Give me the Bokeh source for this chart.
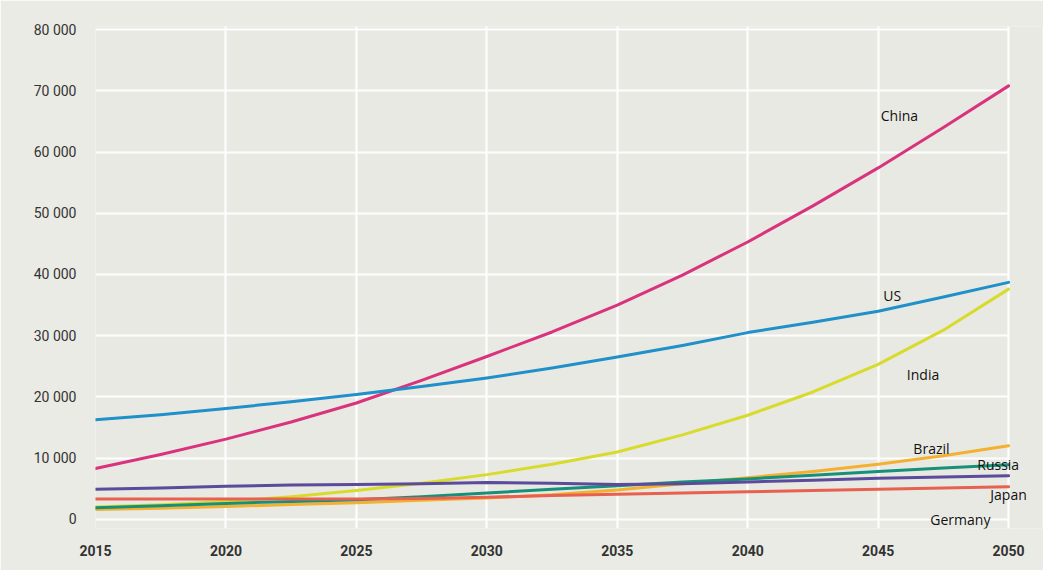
from bokeh.plotting import figure
from bokeh.models import ColumnDataSource, FixedTicker, Range1d, LabelSet
from bokeh.core.properties import value
from bokeh.embed import file_html
from bokeh.resources import INLINE

years = [2015, 2017.5, 2020, 2022.5, 2025, 2027.5, 2030, 2032.5,
         2035, 2037.5, 2040, 2042.5, 2045, 2047.5, 2050]
china = [8300, 10600, 13100, 15900, 19000, 22700, 26600, 30600,
         35000, 39900, 45300, 51200, 57400, 64000, 70800]
us = [16250, 17100, 18100, 19200, 20400, 21700, 23100, 24700,
      26500, 28400, 30500, 32200, 34000, 36300, 38700]
india = [2000, 2400, 2900, 3700, 4700, 5900, 7300, 9000,
         11000, 13800, 17000, 20800, 25300, 30900, 37600]
brazil = [1600, 1800, 2100, 2400, 2700, 3100, 3500, 4000,
          4800, 5800, 6800, 7800, 9000, 10400, 12000]
russia = [1900, 2200, 2600, 2900, 3200, 3700, 4300, 4900,
          5500, 6100, 6600, 7200, 7800, 8400, 8900]
japan = [4900, 5100, 5400, 5600, 5700, 5800, 6000, 5900,
         5700, 5800, 6100, 6400, 6700, 6900, 7100]
germany = [3300, 3300, 3300, 3300, 3300, 3400, 3600, 3900,
           4100, 4300, 4500, 4700, 4900, 5100, 5300]

series_names = ["China", "US", "India", "Brazil", "Russia", "Japan", "Germany"]
series_values = [china, us, india, brazil, russia, japan, germany]
colors = ["#d9337d", "#1f90c9", "#d8db2c", "#f4b030", "#17907a", "#5a4b9b", "#e8604f"]

label_x = [2045.1, 2045.2, 2046.1, 2046.35, 2048.8, 2049.3, 2047.0]
label_y = [66000, 36500, 23600, 11570, 8960, 4070, 0]

grid_years = [2015, 2020, 2025, 2030, 2035, 2040, 2045, 2050]
y_ticks = [0, 10000, 20000, 30000, 40000, 50000, 60000, 70000, 80000]
y_tick_labels = ["0", "10 000", "20 000", "30 000", "40 000", "50 000", "60 000", "70 000", "80 000"]

p = figure(width=1043, height=570, output_backend="svg", toolbar_location=None,
           x_range=Range1d(2015, 2051.3), y_range=Range1d(-1500, 80500),
           min_border_left=95, min_border_right=1, min_border_top=26, min_border_bottom=42)
p.background_fill_color = "#e9e9e3"
p.border_fill_color = "#ebebe5"
p.outline_line_color = None

for name, vals, col in zip(series_names, series_values, colors):
    p.line(years, vals, line_color=col, line_width=3, line_cap="round", line_join="round")

src = ColumnDataSource(dict(x=label_x, y=label_y, t=series_names))
labels = LabelSet(x="x", y="y", text="t", source=src, text_font=value("Open Sans"),
                  text_font_size="14px", text_color="#111111", text_align="left",
                  text_baseline="middle")
p.add_layout(labels)

p.xgrid.ticker = FixedTicker(ticks=grid_years)
p.ygrid.ticker = FixedTicker(ticks=y_ticks)
p.ygrid.cross_bounds = (2015, 2050)
for g in (p.xgrid[0], p.ygrid[0]):
    g.grid_line_color = "white"
    g.grid_line_width = 2.2
    g.grid_line_alpha = 0.9

p.xaxis.ticker = FixedTicker(ticks=grid_years)
p.yaxis.ticker = FixedTicker(ticks=y_ticks)
p.yaxis.major_label_overrides = {t: l for t, l in zip(y_ticks, y_tick_labels)}
for ax in (p.xaxis[0], p.yaxis[0]):
    ax.axis_line_color = None
    ax.major_tick_line_color = None
    ax.minor_tick_line_color = None
    ax.major_label_text_font = "Roboto"
    ax.major_label_text_color = "#333333"
p.yaxis.major_label_text_font_size = "14px"
p.xaxis.major_label_text_font_size = "14px"
p.xaxis.major_label_text_font_style = "bold"
p.yaxis.major_label_standoff = 13
p.xaxis.major_label_standoff = 10

open("out.html", "w").write(file_html(p, INLINE))
